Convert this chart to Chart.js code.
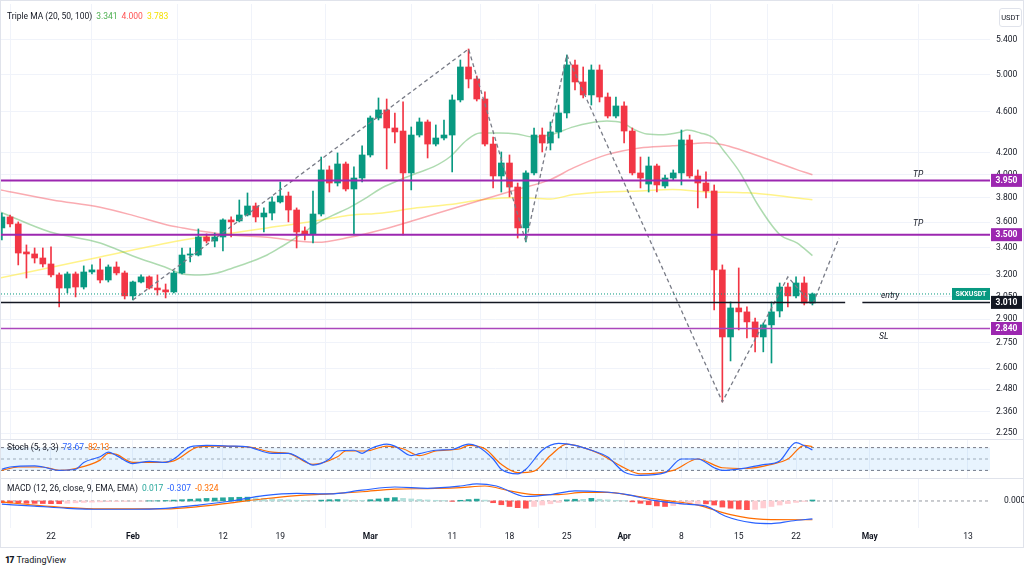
<!DOCTYPE html>
<html><head><meta charset="utf-8">
<script src="https://cdn.jsdelivr.net/npm/chart.js@4.4.1/dist/chart.umd.min.js"></script>
<style>
html,body{margin:0;padding:0;background:#fff;}
#wrap{position:relative;width:1024px;height:570px;overflow:hidden;font-family:Roboto,"DejaVu Sans",sans-serif;}
canvas{position:absolute;left:0;}
.frame{position:absolute;left:0;top:0;width:1022px;height:546px;border:1px solid #e0e3eb;}
.sep{position:absolute;left:0;width:1024px;height:1px;background:#e0e3eb;}
.leg{position:absolute;left:7px;font-size:8.5px;line-height:12px;color:#131722;white-space:nowrap;}
.leg span{margin-left:4px;}
#usdt{position:absolute;left:999px;top:8px;width:21px;height:17px;border:1px solid #e0e3eb;border-radius:3px;font-size:7.5px;line-height:17px;text-align:center;color:#131722;background:#fff;}
#tv{position:absolute;left:5px;top:554px;font-size:9px;line-height:12px;color:#131722;white-space:nowrap;}
#tv b{font-weight:900;letter-spacing:-1px;margin-right:3px;}
</style></head>
<body><div id="wrap">
<div class="frame"></div>
<canvas id="main" width="1024" height="439" style="top:0"></canvas>
<canvas id="stoch" width="1024" height="38" style="top:440px"></canvas>
<canvas id="macd" width="1024" height="69" style="top:479px"></canvas>
<div class="sep" style="top:439px"></div>
<div class="sep" style="top:478px"></div>
<div class="leg" id="legMA" style="top:10px"></div>
<div class="leg" id="legST" style="top:441px"></div>
<div class="leg" id="legMACD" style="top:482px"></div>
<div id="usdt">USDT</div>
<div id="tv"><b>17</b>TradingView</div>
</div>
<script>
// ---------- DATA ----------
const startDay = -6; // day index of first candle (0 = Jan 22)
const opens  = [3.553,3.641,3.585,3.368,3.353,3.323,3.279,3.200,3.108,3.207,3.115,3.221,3.236,3.164,3.257,3.214,3.054,3.150,3.186,3.108,3.095,3.081,3.214,3.345,3.345,3.482,3.451,3.482,3.617,3.609,3.657,3.731,3.641,3.673,3.765,3.815,3.698,3.529,3.506,3.665,4.043,3.927,4.097,3.875,3.971,4.180,4.539,4.621,4.439,4.409,4.016,4.370,4.499,4.283,4.341,4.370,4.725,5.085,4.951,4.735,4.283,3.989,4.106,3.892,3.553,4.016,4.370,4.293,4.400,4.590,5.108,4.918,4.778,5.051,4.756,4.559,4.662,4.409,4.016,3.918,4.079,3.901,3.971,4.016,4.322,3.989,3.927,3.858,3.236,2.787,2.973,2.947,2.882,2.787,2.863,2.953,3.115,3.054,3.143,3.006];
const highs  = [3.673,3.657,3.601,3.421,3.398,3.398,3.406,3.214,3.221,3.221,3.265,3.272,3.316,3.272,3.294,3.228,3.157,3.200,3.193,3.200,3.136,3.228,3.398,3.398,3.545,3.506,3.513,3.625,3.641,3.781,3.841,3.756,3.715,3.807,3.936,3.849,3.715,3.561,3.858,4.161,4.079,4.199,4.115,4.070,4.265,4.559,4.746,4.735,4.590,4.704,4.449,4.539,4.519,4.469,4.519,4.778,5.165,5.293,4.984,4.810,4.351,4.208,4.180,3.927,4.034,4.439,4.439,4.499,4.672,5.223,5.165,5.085,5.108,5.108,4.799,4.756,4.704,4.439,4.161,4.161,4.097,3.998,4.043,4.419,4.370,4.043,4.025,3.910,3.272,3.013,3.250,2.980,2.907,2.875,3.013,3.143,3.143,3.186,3.186,3.074];
const lows   = [3.459,3.561,3.272,3.178,3.286,3.257,3.186,2.980,3.074,3.047,3.101,3.207,3.143,3.150,3.200,3.033,3.026,3.143,3.101,3.060,3.040,3.074,3.207,3.294,3.338,3.436,3.406,3.375,3.482,3.601,3.649,3.601,3.521,3.617,3.756,3.601,3.398,3.459,3.436,3.649,3.849,3.901,3.858,3.498,3.936,4.161,4.519,4.052,4.293,3.498,3.867,4.351,4.152,4.265,4.322,4.025,4.704,4.853,4.714,4.265,3.884,3.849,3.807,3.474,3.444,3.998,4.208,4.227,4.341,4.539,4.831,4.746,4.672,4.704,4.539,4.539,4.293,3.998,3.884,3.849,3.849,3.884,3.954,3.910,3.971,3.715,3.798,2.960,2.412,2.642,2.831,2.781,2.696,2.696,2.630,2.914,2.980,3.040,2.993,2.993];
const closes = [3.641,3.585,3.360,3.353,3.323,3.279,3.200,3.108,3.207,3.115,3.221,3.236,3.164,3.257,3.214,3.054,3.150,3.186,3.108,3.095,3.081,3.214,3.345,3.353,3.482,3.451,3.482,3.617,3.601,3.657,3.731,3.641,3.673,3.765,3.815,3.698,3.521,3.506,3.665,4.043,3.927,4.097,3.875,3.971,4.180,4.539,4.621,4.439,4.400,4.016,4.370,4.499,4.283,4.341,4.370,4.725,5.085,4.951,4.735,4.283,3.989,4.106,3.892,3.553,4.016,4.370,4.293,4.400,4.590,5.108,4.918,4.778,5.051,4.756,4.559,4.662,4.409,4.016,3.971,4.079,3.910,3.971,4.016,4.322,3.989,3.927,3.858,3.236,2.787,2.973,2.947,2.882,2.787,2.863,2.947,3.115,3.054,3.143,3.006,3.067];

// moving averages [day, price]
const ma20  = [[-6.2,3.681],[-0.1,3.521],[6,3.436],[10,3.338],[14.2,3.250],[16.1,3.207],[18.2,3.200],[20.3,3.214],[22.2,3.250],[24.3,3.293],[26.4,3.345],[28.3,3.413],[30.4,3.496],[32.5,3.590],[34.4,3.654],[36.5,3.720],[38.6,3.803],[40.5,3.888],[42.6,3.954],[44.7,4.015],[46.7,4.070],[48.7,4.161],[50.8,4.322],[52.4,4.390],[54.8,4.390],[56.9,4.380],[58.9,4.351],[61,4.373],[63.8,4.450],[65.8,4.489],[67.9,4.508],[69.8,4.489],[71.1,4.430],[72.8,4.380],[74.8,4.373],[76.8,4.397],[77.7,4.419],[79.3,4.390],[80.9,4.341],[82.1,4.227],[84.2,4.015],[86.2,3.756],[89,3.502],[91.1,3.436],[93,3.341]];
const ma50  = [[-6.2,3.867],[0.2,3.781],[6,3.720],[10,3.654],[14.2,3.576],[16.1,3.553],[18.2,3.529],[22.2,3.496],[26.4,3.480],[30.4,3.449],[32.5,3.441],[36.5,3.480],[40.5,3.541],[44.7,3.621],[48.7,3.702],[52.8,3.785],[56.9,3.870],[61,3.957],[63.8,4.061],[67.9,4.183],[71.9,4.246],[75.9,4.266],[80.1,4.296],[82.1,4.277],[84.2,4.229],[91.1,4.046],[93,4.000]];
const ma100 = [[-6.2,3.178],[6,3.330],[14.2,3.436],[18.2,3.480],[22.2,3.513],[26.4,3.553],[30.4,3.590],[34.4,3.633],[36.5,3.654],[40.5,3.674],[44.7,3.716],[48.7,3.743],[52.8,3.785],[56.9,3.803],[61,3.790],[63.8,3.827],[67.9,3.850],[71.9,3.858],[75.9,3.870],[80.1,3.850],[85,3.842],[93,3.783]];

// drawings
const zigzag = [[10,3.026],[51,5.293],[58,3.444],[63,5.223],[82,2.412],[90,3.186],[93,2.993],[96.25,3.475]];
const tp1 = 3.950, tp2 = 3.500, entryLevel = 3.010, slLevel = 2.840;

// stochastic [day, value]
const stochK = [[-6,23],[-5,29],[-2,32],[-1,29],[1,20],[3,23],[4,41],[6,56],[7,68],[8,59],[10,38],[12,44],[14,41],[15,50],[17,82],[19,86],[22,84],[24,82],[27,65],[29,65],[31,45],[32,34],[34,50],[35,71],[37,73],[38,65],[39,77],[41,89],[42,84],[44,59],[45,64],[47,73],[49,75],[51,89],[52,84],[54,50],[55,23],[57,11],[58,23],[60,73],[62,91],[64,86],[66,73],[68,55],[70,16],[72,7],[75,14],[77,50],[79,50],[81,27],[82,20],[85,27],[87,35],[89,45],[91,93],[92,85],[93,73.67]];
const stochD = [[-6,20],[-4,29],[-1,29],[1,20],[3,25],[6,47],[7,65],[8,62],[10,41],[13,41],[15,45],[18,82],[20,84],[24,82],[27,68],[29,65],[32,36],[35,56],[36,71],[38.5,71],[41,84],[43,77],[45,59],[47,71],[50,77],[51,86],[53,77],[55,36],[57,14],[59,18],[61,59],[63,89],[65,80],[67,64],[70,27],[72,11],[76,20],[79,50],[82,27],[85,25],[88,36],[90,50],[92,86],[93,82.13]];
const stochBands = [80, 50, 20];

// MACD
const macdLine   = [[-6,-0.055],[-2,-0.088],[2,-0.126],[6,-0.143],[10,-0.143],[14,-0.126],[18,-0.071],[22,0],[26,0.093],[30,0.132],[34,0.121],[38,0.186],[42,0.241],[46,0.219],[50,0.258],[52,0.296],[54.4,0.258],[58,0.077],[61,0.110],[64,0.175],[67.2,0.159],[70.4,0.110],[73.6,0.011],[77.6,-0.055],[80,-0.088],[82.4,-0.263],[85.6,-0.373],[88,-0.389],[90.4,-0.345],[93,-0.307]];
const signalLine = [[-6,-0.016],[-2,-0.071],[2,-0.115],[6,-0.137],[10,-0.137],[14,-0.137],[18,-0.099],[22,-0.033],[26,0.038],[30,0.093],[34,0.121],[38,0.159],[42,0.203],[46,0.214],[50,0.230],[53,0.258],[56,0.175],[59,0.110],[62,0.110],[65,0.148],[68,0.148],[71,0.093],[75,0.011],[79,-0.071],[83,-0.236],[87,-0.318],[93,-0.324]];
const macdHist = [-0.030,-0.034,-0.037,-0.040,-0.042,-0.044,-0.046,-0.047,-0.040,-0.032,-0.025,-0.020,-0.016,-0.012,-0.010,-0.008,-0.006,-0.004,0.003,0.004,0.008,0.015,0.022,0.030,0.037,0.044,0.050,0.055,0.060,0.064,0.066,0.055,0.045,0.035,0.027,0.020,0.014,0.010,0.006,0.015,0.022,0.025,0.020,0.016,0.012,0.022,0.035,0.048,0.058,0.045,0.035,0.026,0.018,0.012,0.008,-0.006,0.012,0.024,0.032,0.015,-0.030,-0.065,-0.095,-0.115,-0.125,-0.095,-0.070,-0.048,-0.025,0.020,0.030,0.028,0.045,0.030,0.020,0.012,0.006,-0.015,-0.040,-0.065,-0.085,-0.095,-0.080,-0.060,-0.050,-0.045,-0.050,-0.070,-0.105,-0.125,-0.140,-0.150,-0.145,-0.120,-0.095,-0.070,-0.045,-0.025,-0.008,0.017];

// axes
const tickDays   = [0,10,21,28,39,49,56,63,70,77,84,91,100,112];
const tickLabels = ['22','Feb','12','19','Mar','11','18','25','Apr','8','15','22','May','13'];
const priceTicks = [5.4,5.0,4.6,4.2,4.0,3.8,3.6,3.4,3.2,3.05,2.9,2.75,2.6,2.48,2.36,2.25];

// ---------- CHARTS ----------
const UP='#089981', DOWN='#f23645', GRID='#f0f3fa', TXT='#131722';
const X_MIN=-6.107, X_MAX=114.69;
Chart.defaults.font.family='Roboto, "DejaVu Sans", sans-serif';
Chart.defaults.font.size=8.5;
Chart.defaults.color=TXT;

const days = opens.map((_,i)=>startDay+i);
const lastClose = closes[closes.length-1];
const pts = arr => arr.map(([d,v])=>({x:d,y:v}));
const hline = (v,a,b) => [{x:a,y:v},{x:b,y:v}];
const candleColor = ctx => (ctx.dataIndex===undefined) ? UP : (closes[ctx.dataIndex]>=opens[ctx.dataIndex]?UP:DOWN);
const noPad = s => { s.paddingTop=0; s.paddingBottom=0; s.paddingLeft=0; s.paddingRight=0; };

function xScale(show){
  return {type:'linear',min:X_MIN,max:X_MAX,bounds:'data',offset:false,
    afterBuildTicks(s){s.ticks=tickDays.map(v=>({value:v}));},
    afterFit(s){s.height=show?20:0;noPad(s);},
    ticks:{display:show,autoSkip:false,maxRotation:0,padding:4,color:TXT,
      font:c=>{const l=c.tick?tickLabels[tickDays.indexOf(c.tick.value)]:'';return {size:8.5,weight:/[A-Za-z]/.test(l||'')?'bold':'normal'};},
      callback:v=>tickLabels[tickDays.indexOf(v)]},
    grid:{color:GRID,drawTicks:false},border:{display:false}};
}
const baseOpts = (pad)=>({responsive:false,animation:false,events:[],
  layout:{padding:pad,autoPadding:false},
  plugins:{legend:{display:false},tooltip:{enabled:false}}});
const lineDs = (data,color,w,extra)=>Object.assign({type:'line',data,borderColor:color,borderWidth:w,pointRadius:0,fill:false,tension:0},extra||{});

const annot = {id:'annot',afterDraw(chart){
  const {ctx,chartArea:ca,scales:{x,y}}=chart;
  ctx.save();
  ctx.fillStyle=TXT; ctx.font='italic 8.5px Roboto, "DejaVu Sans", sans-serif';
  ctx.textAlign='center'; ctx.textBaseline='middle';
  ctx.fillText('TP', x.getPixelForValue(105.9), y.getPixelForValue(tp1)-6);
  ctx.fillText('TP', x.getPixelForValue(105.9), y.getPixelForValue(tp2)-11);
  ctx.fillText('entry', x.getPixelForValue(102.5), y.getPixelForValue(entryLevel)-7);
  ctx.fillText('SL', x.getPixelForValue(101.7), y.getPixelForValue(slLevel)+8);
  const ly=y.getPixelForValue(lastClose);
  ctx.fillStyle=UP; ctx.fillRect(ca.right-38,ly-6,38,12);
  ctx.fillStyle='#fff'; ctx.font='bold 7px Roboto, "DejaVu Sans", sans-serif';
  ctx.fillText('SKXUSDT', ca.right-19, ly+0.5);
  [[tp1,'#9c27b0'],[tp2,'#9c27b0'],[entryLevel,'#131722'],[slLevel,'#9c27b0']].forEach(([v,c])=>{
    const py=y.getPixelForValue(v);
    ctx.fillStyle=c; ctx.fillRect(ca.right+1,py-6.5,31,13);
    ctx.fillStyle='#fff'; ctx.font='bold 8.5px Roboto, "DejaVu Sans", sans-serif';
    ctx.fillText(v.toFixed(3), ca.right+16.5, py+0.5);
  });
  ctx.restore();
}};

new Chart(document.getElementById('main'),{
  type:'bar',
  data:{datasets:[
    lineDs(hline(tp1,X_MIN,X_MAX),'#9c27b0',2,{order:0}),
    lineDs(hline(tp2,X_MIN,X_MAX),'#9c27b0',2,{order:0}),
    lineDs(hline(slLevel,X_MIN,X_MAX),'#ab47bc',1.5,{order:0}),
    lineDs(hline(entryLevel,X_MIN,97.0),'#131722',1.5,{order:0}),
    lineDs(hline(entryLevel,99.1,X_MAX),'#131722',1.5,{order:0}),
    lineDs(hline(lastClose,X_MIN,110.05),UP,1,{order:0,borderDash:[1,2]}),
    lineDs(pts(zigzag),'#787b86',1.3,{order:0,borderDash:[4,3]}),
    {label:'body',data:days.map((d,i)=>({x:d,y:[opens[i],closes[i]]})),backgroundColor:candleColor,
      barThickness:6,grouped:false,minBarLength:1,borderWidth:0,order:1},
    {label:'wick',data:days.map((d,i)=>({x:d,y:[lows[i],highs[i]]})),backgroundColor:candleColor,
      barThickness:1,grouped:false,borderWidth:0,order:2},
    lineDs(pts(ma20),'rgba(76,175,80,0.45)',1.5,{order:3,tension:0.35,cubicInterpolationMode:'monotone'}),
    lineDs(pts(ma50),'rgba(242,54,69,0.42)',1.5,{order:3,tension:0.35,cubicInterpolationMode:'monotone'}),
    lineDs(pts(ma100),'rgba(255,235,59,0.6)',1.5,{order:3,tension:0.35,cubicInterpolationMode:'monotone'})
  ]},
  options:Object.assign(baseOpts({left:1,top:4,right:0,bottom:0}),{
    scales:{
      x:xScale(false),
      y:{type:'logarithmic',position:'right',min:2.2204,max:5.8508,bounds:'data',
        afterBuildTicks(s){s.ticks=priceTicks.map(v=>({value:v}));},
        afterFit(s){s.width=34;noPad(s);},
        ticks:{autoSkip:false,padding:6,color:TXT,font:{size:8.5},callback:v=>Number(v).toFixed(3)},
        grid:{color:GRID,drawTicks:false},border:{display:false}}
    }}),
  plugins:[annot]
});

new Chart(document.getElementById('stoch'),{
  type:'line',
  data:{datasets:[
    lineDs(hline(stochBands[0],X_MIN,X_MAX),'#787b86',1,{borderDash:[3,3],fill:{value:stochBands[2]},backgroundColor:'rgba(33,150,243,0.1)',order:3}),
    lineDs(hline(stochBands[1],X_MIN,X_MAX),'rgba(120,123,134,0.6)',1,{borderDash:[3,3],order:3}),
    lineDs(hline(stochBands[2],X_MIN,X_MAX),'#787b86',1,{borderDash:[3,3],order:3}),
    lineDs(pts(stochD),'#ff6d00',1.2,{tension:0.35,cubicInterpolationMode:'monotone',order:1}),
    lineDs(pts(stochK),'#2962ff',1.2,{tension:0.35,cubicInterpolationMode:'monotone',order:0})
  ]},
  options:Object.assign(baseOpts({left:1,top:0,right:0,bottom:0}),{
    scales:{x:xScale(false),
      y:{type:'linear',position:'right',min:0,max:100,afterFit(s){s.width=34;noPad(s);},
        ticks:{display:false},grid:{display:false},border:{display:false}}}})
});

new Chart(document.getElementById('macd'),{
  type:'bar',
  data:{datasets:[
    lineDs(hline(0,X_MIN,X_MAX),'#9598a1',1,{borderDash:[3,3],order:3}),
    {label:'hist',data:days.map((d,i)=>({x:d,y:macdHist[i]})),barThickness:5,grouped:false,borderWidth:0,order:2,
      backgroundColor:ctx=>{const i=ctx.dataIndex;if(i===undefined)return UP;const v=macdHist[i],p=i>0?macdHist[i-1]:v+0.001;
        return v>=0?(v>=p?'#26a69a':'#b2dfdb'):(v<=p?'#ff5252':'#ffcdd2');}},
    lineDs(pts(signalLine),'#ff6d00',1.2,{tension:0.4,cubicInterpolationMode:'monotone',order:1}),
    lineDs(pts(macdLine),'#2962ff',1.2,{tension:0.4,cubicInterpolationMode:'monotone',order:0})
  ]},
  options:Object.assign(baseOpts({left:1,top:0,right:0,bottom:0}),{
    scales:{x:xScale(true),
      y:{type:'linear',position:'right',min:-0.466,max:0.379,bounds:'data',
        afterBuildTicks(s){s.ticks=[{value:0}];},afterFit(s){s.width=34;noPad(s);},
        ticks:{padding:6,color:TXT,font:{size:8.5},callback:v=>Number(v).toFixed(3)},
        grid:{display:false},border:{display:false}}}})
});

// legends
const fmt=(v,n)=>v.toFixed(n);
document.getElementById('legMA').innerHTML='Triple MA (20, 50, 100)'+
  '<span style="color:#4caf50">'+fmt(ma20[ma20.length-1][1],3)+'</span>'+
  '<span style="color:#ff5252">'+fmt(ma50[ma50.length-1][1],3)+'</span>'+
  '<span style="color:#f5e000">'+fmt(ma100[ma100.length-1][1],3)+'</span>';
document.getElementById('legST').innerHTML='Stoch (5, 3, 3)'+
  '<span style="color:#2962ff">'+fmt(stochK[stochK.length-1][1],2)+'</span>'+
  '<span style="color:#ff6d00">'+fmt(stochD[stochD.length-1][1],2)+'</span>';
document.getElementById('legMACD').innerHTML='MACD (12, 26, close, 9, EMA, EMA)'+
  '<span style="color:#26a69a">'+fmt(macdHist[macdHist.length-1],3)+'</span>'+
  '<span style="color:#2962ff">'+fmt(macdLine[macdLine.length-1][1],3)+'</span>'+
  '<span style="color:#ff6d00">'+fmt(signalLine[signalLine.length-1][1],3)+'</span>';
</script>
</body></html>
